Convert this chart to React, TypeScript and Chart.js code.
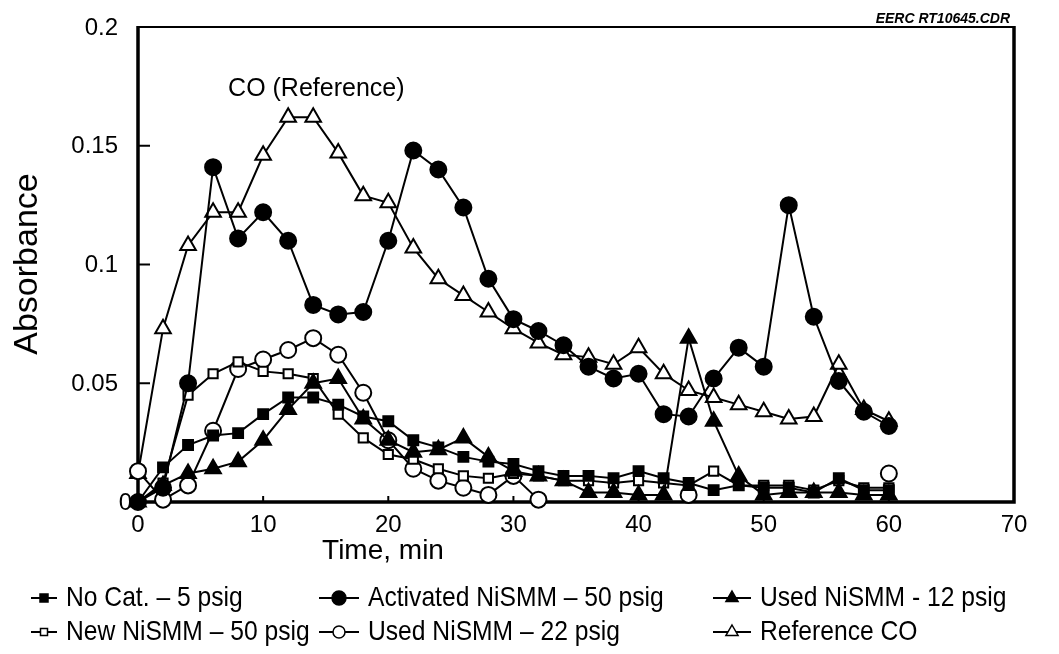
import React, { useEffect, useRef } from 'react';
import { Chart, registerables } from 'chart.js';

Chart.register(...registerables);

const FONT = "'Liberation Sans', Arial, Helvetica, sans-serif";

const times = [0, 2, 4, 6, 8, 10, 12, 14, 16, 18, 20, 22, 24, 26, 28, 30, 32, 34, 36, 38, 40, 42, 44, 46, 48, 50, 52, 54, 56, 58, 60];

const noCat = [0, 0.0146, 0.024, 0.028, 0.029, 0.037, 0.044, 0.044, 0.041, 0.036, 0.034, 0.026, 0.023, 0.019, 0.017, 0.016, 0.013, 0.011, 0.011, 0.010, 0.013, 0.010, 0.008, 0.005, 0.007, 0.006, 0.006, 0.004, 0.010, 0.005, 0.005];
const activated = [0, 0.006, 0.050, 0.141, 0.111, 0.122, 0.110, 0.083, 0.079, 0.080, 0.110, 0.148, 0.140, 0.124, 0.094, 0.077, 0.072, 0.066, 0.057, 0.052, 0.054, 0.037, 0.036, 0.052, 0.065, 0.057, 0.125, 0.078, 0.051, 0.038, 0.032];
const used12 = [0, 0.007, 0.012, 0.014, 0.017, 0.026, 0.039, 0.050, 0.052, 0.035, 0.026, 0.021, 0.022, 0.027, 0.019, 0.013, 0.011, 0.009, 0.004, 0.004, 0.003, 0.003, 0.069, 0.034, 0.011, 0.003, 0.004, 0.004, 0.004, 0.003, 0.003];
const newNiSMM = [0, 0.008, 0.045, 0.054, 0.059, 0.055, 0.054, 0.052, 0.037, 0.027, 0.020, 0.018, 0.014, 0.011, 0.010, 0.012, 0.011, 0.009, 0.009, 0.008, 0.009, 0.008, 0.007, 0.013, 0.007, 0.007, 0.007, 0.005, 0.009, 0.006, 0.006];
const used22 = [0.013, 0.001, 0.007, 0.030, 0.056, 0.060, 0.064, 0.069, 0.062, 0.046, 0.026, 0.014, 0.009, 0.006, 0.003, 0.011, 0.001, null, null, null, null, null, 0.003, null, null, null, null, null, null, null, 0.012];
const refCO = [0.012, 0.073, 0.108, 0.122, 0.122, 0.146, 0.162, 0.162, 0.147, 0.129, 0.126, 0.107, 0.094, 0.087, 0.080, 0.073, 0.067, 0.062, 0.061, 0.058, 0.065, 0.054, 0.047, 0.044, 0.041, 0.038, 0.035, 0.036, 0.058, 0.039, 0.034];

const seriesLabels = ['No Cat. – 5 psig', 'Activated NiSMM – 50 psig', 'Used NiSMM - 12 psig', 'New NiSMM – 50 psig', 'Used NiSMM – 22 psig', 'Reference CO'];

const xTickValues = [0, 10, 20, 30, 40, 50, 60, 70];
const xTickLabels = ['0', '10', '20', '30', '40', '50', '60', '70'];
const yTickValues = [0, 0.05, 0.1, 0.15, 0.2];
const yTickLabels = ['0', '0.05', '0.1', '0.15', '0.2'];

const xTitle = 'Time, min';
const yTitle = 'Absorbance';
const annotationText = 'CO (Reference)';
const fileTag = 'EERC RT10645.CDR';

type SeriesDef = { label: string; values: (number | null)[]; shape: 'rect' | 'circle' | 'triangle'; filled: boolean; radius: number };

const series: SeriesDef[] = [
  { label: seriesLabels[0], values: noCat, shape: 'rect', filled: true, radius: 7 },
  { label: seriesLabels[1], values: activated, shape: 'circle', filled: true, radius: 8 },
  { label: seriesLabels[2], values: used12, shape: 'triangle', filled: true, radius: 9 },
  { label: seriesLabels[3], values: newNiSMM, shape: 'rect', filled: false, radius: 6.5 },
  { label: seriesLabels[4], values: used22, shape: 'circle', filled: false, radius: 8 },
  { label: seriesLabels[5], values: refCO, shape: 'triangle', filled: false, radius: 9 },
];

const decorPlugin = {
  id: 'decor',
  beforeDatasetsDraw(chart: any) {
    const { ctx, chartArea } = chart;
    const { left, right, top, bottom } = chartArea;
    const xs = chart.scales.x;
    const ys = chart.scales.y;
    ctx.save();
    ctx.strokeStyle = '#000';
    ctx.lineCap = 'butt';
    ctx.lineWidth = 2;
    yTickValues.forEach((v) => {
      const py = ys.getPixelForValue(v);
      ctx.beginPath();
      ctx.moveTo(left, py);
      ctx.lineTo(left + 12, py);
      ctx.stroke();
    });
    xTickValues.forEach((v) => {
      const px = xs.getPixelForValue(v);
      ctx.beginPath();
      ctx.moveTo(px, bottom);
      ctx.lineTo(px, bottom - 6);
      ctx.stroke();
    });
    ctx.lineWidth = 2;
    ctx.beginPath();
    ctx.moveTo(left, top);
    ctx.lineTo(right, top);
    ctx.stroke();
    ctx.lineWidth = 3.5;
    ctx.beginPath();
    ctx.moveTo(left, top - 1);
    ctx.lineTo(left, bottom);
    ctx.lineTo(right, bottom);
    ctx.lineTo(right, top - 1);
    ctx.stroke();
    ctx.fillStyle = '#000';
    ctx.font = `24px ${FONT}`;
    ctx.textAlign = 'right';
    ctx.textBaseline = 'middle';
    yTickValues.forEach((v, i) => {
      const py = ys.getPixelForValue(v);
      ctx.fillText(yTickLabels[i], left - (v === 0 ? 6 : 20), py + 1);
    });
    ctx.restore();
  },
  afterDraw(chart: any) {
    const { ctx, chartArea } = chart;
    const xs = chart.scales.x;
    const ys = chart.scales.y;
    ctx.save();
    ctx.fillStyle = '#000';
    ctx.font = `25px ${FONT}`;
    ctx.textAlign = 'left';
    ctx.textBaseline = 'alphabetic';
    ctx.fillText(annotationText, xs.getPixelForValue(7.2), ys.getPixelForValue(0.171));
    ctx.font = `italic bold 14px ${FONT}`;
    ctx.textAlign = 'right';
    ctx.fillText(fileTag, chartArea.right - 4, chartArea.top - 4);
    ctx.font = `28px ${FONT}`;
    ctx.textAlign = 'center';
    ctx.textBaseline = 'middle';
    ctx.fillText(xTitle, 383, 551);
    ctx.translate(28, 264);
    ctx.rotate(-Math.PI / 2);
    ctx.font = `34px ${FONT}`;
    ctx.fillText(yTitle, 0, 0);
    ctx.restore();
  },
};

function LegendMarker({ s, w }: { s: SeriesDef; w: number }) {
  const cx = w / 2;
  const cy = 10;
  const fill = s.filled ? '#000' : '#fff';
  let shape: React.ReactNode = null;
  if (s.shape === 'rect') {
    const h = s.filled ? 4 : 3.5;
    shape = <rect x={cx - h} y={cy - h} width={2 * h} height={2 * h} fill={fill} stroke="#000" strokeWidth={1.5} />;
  } else if (s.shape === 'circle') {
    const r = s.filled ? 7 : 6;
    shape = <circle cx={cx} cy={cy} r={r} fill={fill} stroke="#000" strokeWidth={1.5} />;
  } else {
    const r = 7;
    const pts = [
      [cx, cy - r],
      [cx + r * 0.866, cy + r * 0.5],
      [cx - r * 0.866, cy + r * 0.5],
    ].map((p) => p.join(',')).join(' ');
    shape = <polygon points={pts} fill={fill} stroke="#000" strokeWidth={1.5} />;
  }
  return (
    <svg width={w} height={20} style={{ position: 'absolute', left: 0, top: 3 }}>
      <line x1={1} y1={cy} x2={w - 1} y2={cy} stroke="#000" strokeWidth={2} />
      {shape}
    </svg>
  );
}

const legendMarkerLeft = [30, 318, 712];
const legendTextLeft = [66, 368, 760];
const legendRows = [598, 632];

export default function App() {
  const canvasRef = useRef<HTMLCanvasElement | null>(null);

  useEffect(() => {
    const canvas = canvasRef.current;
    if (!canvas) return;
    const datasets = series.map((s) => ({
      label: s.label,
      data: times.map((t, i) => ({ x: t, y: s.values[i] })),
      borderColor: '#000',
      borderWidth: 2,
      pointStyle: s.shape,
      pointRadius: s.radius,
      pointBackgroundColor: s.filled ? '#000' : '#fff',
      pointBorderColor: '#000',
      pointBorderWidth: 2,
      tension: 0,
      fill: false,
      clip: false,
      spanGaps: false,
    }));
    const chart = new Chart(canvas, {
      type: 'line',
      data: { datasets } as any,
      options: {
        responsive: false,
        animation: false,
        layout: { padding: { left: 0, top: 27, right: 1059 - 1014, bottom: 0 } },
        plugins: { legend: { display: false }, tooltip: { enabled: false } },
        scales: {
          x: {
            type: 'linear',
            min: 0,
            max: 70,
            grid: { display: false, drawTicks: false },
            border: { display: false },
            afterBuildTicks: (s: any) => {
              s.ticks = xTickValues.map((v) => ({ value: v }));
            },
            afterFit: (s: any) => {
              s.height = 152;
              s.paddingLeft = 0;
              s.paddingRight = 0;
            },
            ticks: {
              autoSkip: false,
              maxRotation: 0,
              padding: 9,
              color: '#000',
              font: { family: FONT, size: 24 },
              callback: (v: any) => xTickLabels[xTickValues.indexOf(Number(v))],
            },
          },
          y: {
            type: 'linear',
            min: 0,
            max: 0.2,
            grid: { display: false, drawTicks: false },
            border: { display: false },
            afterBuildTicks: (s: any) => {
              s.ticks = yTickValues.map((v) => ({ value: v }));
            },
            afterFit: (s: any) => {
              s.width = 138;
              s.paddingTop = 0;
              s.paddingBottom = 0;
            },
            ticks: { display: false },
          },
        },
      } as any,
      plugins: [decorPlugin],
    });
    return () => chart.destroy();
  }, []);

  return (
    <div style={{ position: 'fixed', left: 0, top: 0, width: 1059, height: 654, background: '#fff', overflow: 'hidden' }}>
      <canvas ref={canvasRef} width={1059} height={654} style={{ position: 'absolute', left: 0, top: 0, width: 1059, height: 654 }} />
      {series.map((s, k) => {
        const col = k % 3;
        const row = Math.floor(k / 3);
        const mw = legendTextLeft[col] - legendMarkerLeft[col] - 8;
        return (
          <div key={k} style={{ position: 'absolute', left: legendMarkerLeft[col], top: legendRows[row] - 13, height: 26, width: 1059 - legendMarkerLeft[col] }}>
            <LegendMarker s={s} w={mw} />
            <span
              style={{
                position: 'absolute',
                left: legendTextLeft[col] - legendMarkerLeft[col],
                top: -4,
                lineHeight: '32px',
                whiteSpace: 'nowrap',
                fontFamily: FONT,
                fontSize: 28,
                color: '#000',
                transform: 'scaleX(0.88)',
                transformOrigin: '0 50%',
              }}
            >
              {s.label}
            </span>
          </div>
        );
      })}
    </div>
  );
}
